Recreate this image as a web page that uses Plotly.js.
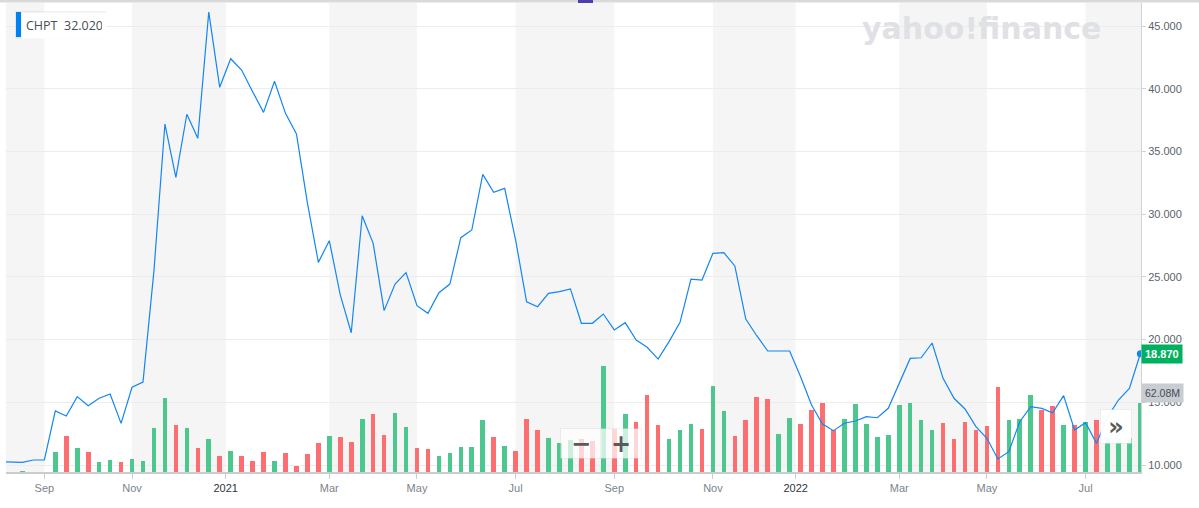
<!DOCTYPE html>
<html>
<head>
<meta charset="utf-8">
<script src="https://cdn.plot.ly/plotly-3.0.1.min.js"></script>
<style>
  html, body { margin: 0; padding: 0; background: #ffffff; }
  #chart { width: 1199px; height: 508px; }
</style>
</head>
<body>
<div id="chart"></div>
<script>
// ---- data (weekly) ----
const dates = [
  '2020-08-03','2020-08-10','2020-08-17','2020-08-24','2020-08-31','2020-09-07','2020-09-14','2020-09-21','2020-09-28',
  '2020-10-05','2020-10-12','2020-10-19','2020-10-26','2020-11-02','2020-11-09','2020-11-16','2020-11-23','2020-11-30',
  '2020-12-07','2020-12-14','2020-12-21','2020-12-28','2021-01-04','2021-01-11','2021-01-18','2021-01-25','2021-02-01',
  '2021-02-08','2021-02-15','2021-02-22','2021-03-01','2021-03-08','2021-03-15','2021-03-22','2021-03-29','2021-04-05',
  '2021-04-12','2021-04-19','2021-04-26','2021-05-03','2021-05-10','2021-05-17','2021-05-24','2021-05-31','2021-06-07',
  '2021-06-14','2021-06-21','2021-06-28','2021-07-05','2021-07-12','2021-07-19','2021-07-26','2021-08-02','2021-08-09',
  '2021-08-16','2021-08-23','2021-08-30','2021-09-06','2021-09-13','2021-09-20','2021-09-27','2021-10-04','2021-10-11',
  '2021-10-18','2021-10-25','2021-11-01','2021-11-08','2021-11-15','2021-11-22','2021-11-29','2021-12-06','2021-12-13',
  '2021-12-20','2021-12-27','2022-01-03','2022-01-10','2022-01-17','2022-01-24','2022-01-31','2022-02-07','2022-02-14',
  '2022-02-21','2022-02-28','2022-03-07','2022-03-14','2022-03-21','2022-03-28','2022-04-04','2022-04-11','2022-04-18',
  '2022-04-25','2022-05-02','2022-05-09','2022-05-16','2022-05-23','2022-05-30','2022-06-06','2022-06-13','2022-06-20',
  '2022-06-27','2022-07-04','2022-07-11','2022-07-18','2022-07-25','2022-08-01'
];
const price = [
  10.27,10.25,10.21,10.40,10.40,14.31,13.91,15.45,14.73,
  15.32,15.66,13.32,16.20,16.62,25.50,37.19,32.94,37.97,
  36.05,46.12,40.12,42.40,41.50,39.77,38.12,40.60,38.04,
  36.40,30.90,26.16,27.89,23.56,20.55,29.88,27.68,22.31,
  24.43,25.34,22.71,22.10,23.74,24.43,28.13,28.74,33.18,
  31.74,32.06,27.94,23.02,22.62,23.69,23.82,24.04,21.30,
  21.30,22.04,20.77,21.35,19.97,19.39,18.45,19.84,21.38,
  24.83,24.75,26.88,26.93,25.87,21.64,20.31,19.09,19.09,
  19.09,17.04,14.78,13.27,12.74,13.33,13.51,13.85,13.77,
  14.52,16.50,18.50,18.55,19.73,16.91,15.32,14.47,13.06,
  12.13,10.48,11.06,13.45,14.65,14.52,14.17,15.53,12.79,
  13.37,11.73,13.80,15.18,16.11,18.87
];
// weekly volume, millions of shares
const volume = [
  0.2,0.2,1.3,0.2,0.2,17.9,32.2,21.5,17.9,
  8.9,10.7,8.9,11.4,9.6,39.4,66.2,42.0,39.4,
  21.5,29.5,14.3,18.8,14.3,9.8,17.9,9.8,17.0,
  5.4,16.1,25.9,32.2,31.3,26.8,47.4,51.9,33.1,
  52.8,40.0,21.2,20.3,14.0,16.7,22.1,22.1,46.2,
  31.0,23.0,18.5,47.1,37.3,30.1,25.7,28.4,29.2,
  27.5,94.5,38.8,51.9,44.7,68.9,42.0,29.5,37.6,
  42.9,38.5,76.9,54.6,32.2,46.5,67.1,65.3,34.0,
  48.6,42.9,55.5,61.7,37.6,47.4,61.2,42.9,31.0,
  32.8,60.3,61.7,46.9,37.9,43.8,29.5,44.7,37.6,
  41.1,76.0,46.2,47.4,68.9,55.8,59.0,42.0,42.0,
  44.7,46.2,30.0,30.0,30.0,62.08
];
// 1 = up week (green), -1 = down week (red)
const volDir = [
  1,1,1,1,1,1,-1,1,-1,
  1,1,-1,1,1,1,1,-1,1,
  -1,1,-1,1,-1,-1,-1,1,-1,
  -1,-1,-1,1,-1,-1,1,-1,-1,
  1,1,-1,-1,1,1,1,1,1,
  -1,1,-1,-1,-1,1,1,1,-1,
  -1,1,-1,1,-1,-1,-1,1,1,
  1,-1,1,1,-1,-1,-1,-1,1,
  1,-1,-1,-1,-1,1,1,1,1,
  1,1,1,1,1,-1,-1,-1,-1,
  -1,-1,1,1,1,-1,-1,1,-1,
  1,-1,1,1,1,1
];
const tickDates = ['2020-08-31','2020-10-26','2020-12-28','2021-03-01','2021-04-26','2021-06-28',
                   '2021-08-30','2021-11-01','2021-12-27','2022-02-28','2022-04-25','2022-06-27'];
const tickLabels = ['Sep','Nov','2021','Mar','May','Jul','Sep','Nov','2022','Mar','May','Jul'];
const ticker = 'CHPT';
const legendValue = '32.020';

// ---- build ----
const UP = '#4cc78d', DOWN = '#fc6e70', LINE = '#1286f3';
const isYear = s => /^\d{4}$/.test(s);
const tickPos = tickDates.map((d, k) => dates.indexOf(d) - (isYear(tickLabels[k]) ? 0.45 : 0));
const tickText = tickLabels.map(s => isYear(s) ? '<span style="color:#2f353b">' + s + '</span>' : s);
const xr = [0.5, dates.length - 1 + 0.06];

// alternating two-month shading
const bandEdges = [xr[0]].concat(tickPos).concat([xr[1]]);
const shapes = [];
for (let k = 0; k + 1 < bandEdges.length; k += 2) {
  shapes.push({type: 'rect', layer: 'below', xref: 'x', yref: 'paper',
    x0: bandEdges[k], x1: bandEdges[k + 1], y0: 0, y1: 1,
    fillcolor: '#f5f5f5', line: {width: 0}});
}
const W = 1199, H = 508, ML = 6, MR = 58, MT = 3, MB = 36;
const PW = W - ML - MR, PH = H - MT - MB;
const px = x => (x - ML) / PW;
const py = y => (H - MB - y) / PH;
// top border strip and tab
shapes.push({type: 'rect', xref: 'paper', yref: 'paper', x0: px(0), x1: px(W), y0: py(2.5), y1: py(0),
  fillcolor: '#d9d9d9', line: {width: 0}, layer: 'above'});
shapes.push({type: 'rect', xref: 'paper', yref: 'paper', x0: px(578), x1: px(593), y0: py(3), y1: py(0),
  fillcolor: '#4b3fae', line: {width: 0}, layer: 'above'});
// legend box shadow + blue marker
shapes.push({type: 'rect', xref: 'paper', yref: 'paper', x0: px(15), x1: px(106), y0: py(38.5), y1: py(11),
  fillcolor: 'rgba(0,0,0,0.06)', line: {width: 0}, layer: 'above'});
shapes.push({type: 'rect', xref: 'paper', yref: 'paper', x0: px(16), x1: px(21), y0: py(37), y1: py(12),
  fillcolor: '#0081f2', line: {width: 0}, layer: 'above'});

const traces = [
  {type: 'bar', x: dates, y: volume, yaxis: 'y', width: 0.42,
   marker: {color: volDir.map(d => d > 0 ? UP : DOWN), line: {width: 0}}, hoverinfo: 'skip'},
  {type: 'scatter', mode: 'lines', x: dates, y: price, yaxis: 'y2',
   line: {color: LINE, width: 1.2}, hoverinfo: 'skip'},
  {type: 'scatter', mode: 'markers', x: dates.slice(-1), y: price.slice(-1), yaxis: 'y2',
   marker: {color: LINE, size: 7}, cliponaxis: false, hoverinfo: 'skip'}
];

const pLo = 9.442, pHi = pLo + PH / 12.54;
const vHi = 0.8945 * PH;

const layout = {
  width: W, height: H,
  margin: {l: ML, r: MR, t: MT, b: MB},
  paper_bgcolor: '#ffffff', plot_bgcolor: '#ffffff',
  showlegend: false, bargap: 0,
  font: {family: 'Liberation Sans, Arial, sans-serif', size: 11, color: '#5b636a'},
  xaxis: {type: 'category', range: xr, tickmode: 'array', tickvals: tickPos, ticktext: tickText,
    showgrid: false, zeroline: false, showline: true, linecolor: '#c9ccd1', linewidth: 1.5,
    ticks: 'outside', ticklen: 5, tickcolor: '#c9ccd1', tickfont: {size: 11, color: '#7c838a'}},
  yaxis: {range: [0, vHi], visible: false, fixedrange: true},
  yaxis2: {overlaying: 'y', side: 'right', anchor: 'x', range: [pLo, pHi], dtick: 5, tick0: 0,
    tickformat: '.3f', showgrid: true, gridcolor: '#ececec', zeroline: false,
    showline: true, linecolor: '#cfd2d6', ticks: 'outside', ticklen: 4, tickcolor: '#cfd2d6',
    tickfont: {size: 11, color: '#5b636a'}},
  shapes: shapes,
  annotations: [
    {xref: 'paper', yref: 'paper', x: px(21), y: py(12), xanchor: 'left', yanchor: 'top',
     text: ticker + '\u00a0\u00a0' + legendValue, showarrow: false, align: 'left',
     width: 76, height: 17, borderpad: 4, bgcolor: '#ffffff',
     font: {family: 'Open Sans, sans-serif', size: 12.5, color: '#464e56'}},
    {xref: 'paper', yref: 'y2', x: 1, y: price[price.length - 1], xanchor: 'left', yanchor: 'middle',
     text: '<b>' + price[price.length - 1].toFixed(3) + '</b>', showarrow: false,
     bgcolor: '#00b061', borderpad: 3, font: {size: 11, color: '#ffffff'}},
    {xref: 'paper', yref: 'y', x: 1, y: volume[volume.length - 1], xanchor: 'left', yanchor: 'bottom',
     text: volume[volume.length - 1].toFixed(2) + 'M', showarrow: false,
     bgcolor: '#c9ccd2', borderpad: 3, font: {size: 10.5, color: '#464e56'}},
    {xref: 'paper', yref: 'paper', x: px(981), y: py(28), xanchor: 'center', yanchor: 'middle',
     text: '<b>yahoo!finance</b>', showarrow: false,
     font: {family: 'DejaVu Sans, sans-serif', size: 30, color: '#dfe1e5'}},
    {xref: 'paper', yref: 'paper', x: px(580.5), y: py(443), xanchor: 'center', yanchor: 'middle',
     text: '<b>\u2212</b>', showarrow: false, width: 34, height: 23, borderpad: 3,
     bgcolor: 'rgba(255,255,255,0.72)', bordercolor: 'rgba(0,0,0,0.05)', borderwidth: 1,
     font: {family: 'DejaVu Sans, sans-serif', size: 24, color: '#5a5a5a'}},
    {xref: 'paper', yref: 'paper', x: px(620.5), y: py(443), xanchor: 'center', yanchor: 'middle',
     text: '<b>+</b>', showarrow: false, width: 34, height: 23, borderpad: 3,
     bgcolor: 'rgba(255,255,255,0.72)', bordercolor: 'rgba(0,0,0,0.05)', borderwidth: 1,
     font: {family: 'DejaVu Sans, sans-serif', size: 24, color: '#5a5a5a'}},
    {xref: 'paper', yref: 'paper', x: px(1116), y: py(426), xanchor: 'center', yanchor: 'middle',
     text: '<b>\u00bb</b>', showarrow: false, width: 24, height: 27, borderpad: 3,
     bgcolor: 'rgba(255,255,255,0.95)', bordercolor: 'rgba(0,0,0,0.05)', borderwidth: 1,
     font: {family: 'DejaVu Sans, sans-serif', size: 24, color: '#5a5a5a'}}
  ]
};

Plotly.newPlot('chart', traces, layout, {displayModeBar: false, staticPlot: true});
</script>
</body>
</html>
